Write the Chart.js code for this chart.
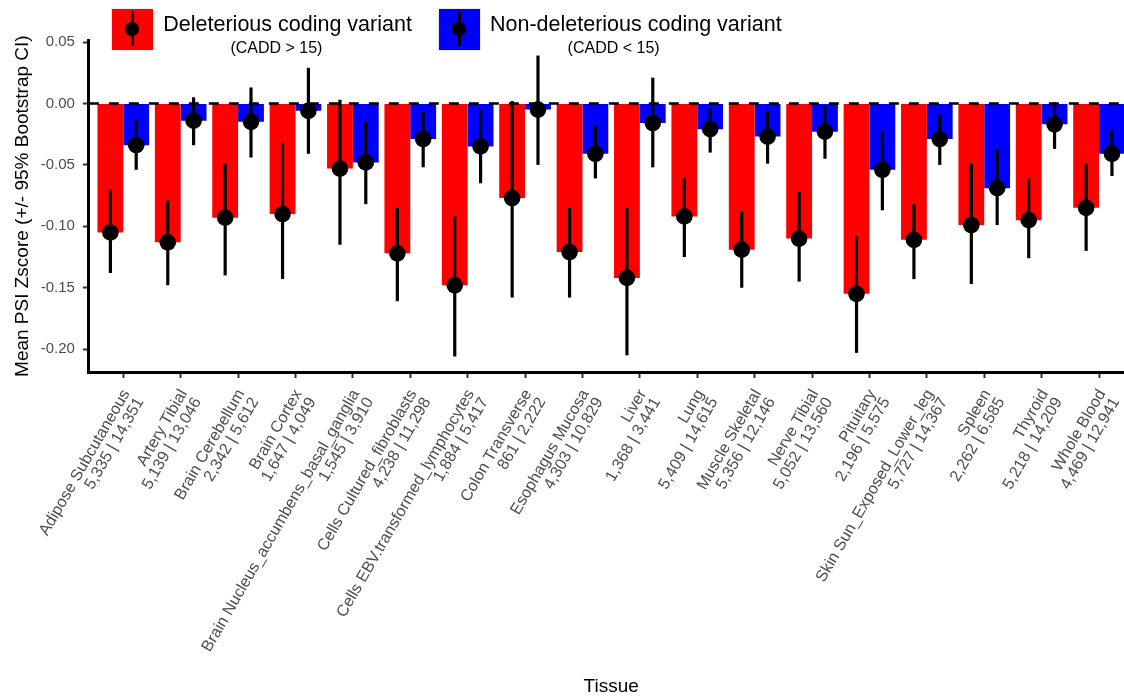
<!DOCTYPE html>
<html>
<head>
<meta charset="utf-8">
<script src="https://cdn.jsdelivr.net/npm/chart.js@4.4.1/dist/chart.umd.min.js"></script>
<style>
  html, body { margin: 0; padding: 0; background: #fff; }
  body { width: 1124px; height: 696px; overflow: hidden; position: relative;
         font-family: "Liberation Sans", Arial, Helvetica, sans-serif; }
  #chart { position: absolute; left: 0; top: 0; }
  .key { position: absolute; top: 9px; width: 41.6px; height: 41px; box-shadow: 0 0 0 1px #ececec; }
  .key .stem { position: absolute; left: 19px; top: 1.7px; width: 3px; height: 35.3px; background: #000; }
  .key .dot { position: absolute; left: 13.8px; top: 13.3px; width: 13.4px; height: 13.4px; border-radius: 50%; background: #000; }
  .lab { position: absolute; top: 14px; font-size: 21.5px; line-height: 21.5px; color: #000; white-space: nowrap; }
  .sub { position: absolute; top: 39.5px; width: 160px; margin-left: -80px; text-align: center;
         font-size: 16px; line-height: 16px; color: #000; white-space: nowrap; }
</style>
</head>
<body>
<canvas id="chart" width="1136" height="696" style="width:1136px;height:696px"></canvas>

<div class="key" id="key0" style="left:111.7px"><div class="stem"></div><div class="dot"></div></div>
<div class="lab" id="lab0" style="left:163.3px"></div>
<div class="sub" id="sub0" style="left:276.4px"></div>
<div class="key" id="key1" style="left:438.6px"><div class="stem"></div><div class="dot"></div></div>
<div class="lab" id="lab1" style="left:490px"></div>
<div class="sub" id="sub1" style="left:613.6px"></div>

<script>
const tissues = ['Adipose Subcutaneous', 'Artery Tibial', 'Brain Cerebellum', 'Brain Cortex',
  'Brain Nucleus_accumbens_basal_ganglia', 'Cells Cultured_fibroblasts', 'Cells EBV.transformed_lymphocytes',
  'Colon Transverse', 'Esophagus Mucosa', 'Liver', 'Lung', 'Muscle Skeletal', 'Nerve Tibial', 'Pituitary',
  'Skin Sun_Exposed_Lower_leg', 'Spleen', 'Thyroid', 'Whole Blood'];
const counts = ['5,335 | 14,351', '5,139 | 13,046', '2,342 | 5,612', '1,647 | 4,049', '1,545 | 3,910',
  '4,238 | 11,298', '1,884 | 5,417', '861 | 2,222', '4,303 | 10,829', '1,368 | 3,441', '5,409 | 14,615',
  '5,356 | 12,146', '5,052 | 13,560', '2,196 | 5,575', '5,727 | 14,367', '2,262 | 6,585', '5,218 | 14,209',
  '4,469 | 12,941'];

// deleterious (CADD > 15): mean and 95% bootstrap CI
const delMean = [-0.105, -0.113, -0.093, -0.090, -0.053, -0.122, -0.148, -0.077, -0.121, -0.142,
  -0.092, -0.119, -0.110, -0.155, -0.111, -0.099, -0.095, -0.085];
const delLow = [-0.138, -0.148, -0.140, -0.143, -0.115, -0.161, -0.206, -0.158, -0.158, -0.205,
  -0.125, -0.150, -0.145, -0.203, -0.143, -0.147, -0.126, -0.120];
const delHigh = [-0.070, -0.079, -0.049, -0.032, 0.003, -0.085, -0.092, 0.002, -0.085, -0.085,
  -0.060, -0.088, -0.072, -0.108, -0.082, -0.049, -0.061, -0.049];

// non-deleterious (CADD < 15)
const nonMean = [-0.034, -0.014, -0.015, -0.006, -0.048, -0.029, -0.035, -0.005, -0.041, -0.016,
  -0.021, -0.027, -0.023, -0.054, -0.029, -0.069, -0.017, -0.041];
const nonLow = [-0.054, -0.034, -0.044, -0.041, -0.082, -0.052, -0.065, -0.050, -0.061, -0.052,
  -0.040, -0.049, -0.045, -0.087, -0.050, -0.099, -0.037, -0.059];
const nonHigh = [-0.013, 0.005, 0.013, 0.029, -0.015, -0.007, -0.005, 0.039, -0.018, 0.021,
  -0.004, -0.006, -0.002, -0.022, -0.009, -0.038, 0.001, -0.022];

const seriesNames = ['Deleterious coding variant', 'Non-deleterious coding variant'];
const seriesNotes = ['(CADD > 15)', '(CADD < 15)'];
const yTicks = [0.05, 0, -0.05, -0.10, -0.15, -0.20];

const seriesColors = ['#FF0000', '#0000FF'];
const FONT = '"Liberation Sans", Arial, Helvetica, sans-serif';
const dodge = 0.225;

seriesNames.forEach((name, i) => {
  document.getElementById('key' + i).style.background = seriesColors[i];
  document.getElementById('lab' + i).textContent = name;
  document.getElementById('sub' + i).textContent = seriesNotes[i];
});

function barPoints(vals) {
  return vals.map((v, i) => ({ x: i, y: v }));
}
function dotPoints(vals, dx) {
  return vals.map((v, i) => ({ x: i + dx, y: v }));
}

// zero line and CI ranges, drawn after the bars and before the dots
const rangePlugin = {
  id: 'ranges',
  afterDatasetDraw(chart, args) {
    if (args.index !== 0) return;   // red bars are drawn last of the bars
    const { ctx, chartArea, scales: { x, y } } = chart;
    ctx.save();
    const y0 = y.getPixelForValue(0);
    ctx.beginPath();
    ctx.setLineDash([10, 10]);
    ctx.strokeStyle = '#000';
    ctx.lineWidth = 2.6;
    ctx.moveTo(chartArea.left, y0);
    ctx.lineTo(chartArea.right, y0);
    ctx.stroke();
    ctx.setLineDash([]);
    ctx.lineWidth = 3.2;
    [[delLow, delHigh, -dodge], [nonLow, nonHigh, dodge]].forEach(([lo, hi, dx]) => {
      lo.forEach((v, i) => {
        const px = x.getPixelForValue(i + dx);
        ctx.beginPath();
        ctx.moveTo(px, y.getPixelForValue(v));
        ctx.lineTo(px, y.getPixelForValue(hi[i]));
        ctx.stroke();
      });
    });
    ctx.restore();
  }
};

const axisGrid = { drawOnChartArea: false, drawTicks: true, tickLength: 6, tickColor: '#333333', tickWidth: 2, offset: false };
const axisBorder = { display: true, color: '#000', width: 3 };

new Chart(document.getElementById('chart'), {
  type: 'bar',
  data: {
    datasets: [
      { label: seriesNames[0], data: barPoints(delMean), backgroundColor: seriesColors[0],
        categoryPercentage: 0.9, barPercentage: 1, order: 2 },
      { label: seriesNames[1], data: barPoints(nonMean), backgroundColor: seriesColors[1],
        categoryPercentage: 0.9, barPercentage: 1, order: 3 },
      { type: 'scatter', data: dotPoints(delMean, -dodge), pointRadius: 8.3, pointBorderWidth: 0,
        pointBackgroundColor: '#000', order: 1 },
      { type: 'scatter', data: dotPoints(nonMean, dodge), pointRadius: 8.3, pointBorderWidth: 0,
        pointBackgroundColor: '#000', order: 0 }
    ]
  },
  options: {
    responsive: false,
    animation: false,
    events: [],
    layout: { autoPadding: false, padding: { left: 0, top: 40.3, right: 2.25, bottom: 0 } },
    plugins: { legend: { display: false }, tooltip: { enabled: false } },
    scales: {
      x: {
        type: 'linear', min: -0.6, max: 17.6, offset: false,
        afterBuildTicks: s => { s.ticks = tissues.map((_, i) => ({ value: i })); },
        afterFit: s => { s.height = 324; },
        ticks: {
          autoSkip: false, minRotation: 60, maxRotation: 60, padding: 9, labelOffset: 3, color: '#4D4D4D',
          font: { family: FONT, size: 16.1, lineHeight: 1 },
          callback: v => [tissues[v], counts[v]]
        },
        grid: axisGrid,
        border: axisBorder,
        title: { display: true, text: 'Tissue', color: '#000', padding: 0,
                 font: { family: FONT, size: 19, lineHeight: 1 } }
      },
      y: {
        min: -0.2186, max: 0.0514,
        afterBuildTicks: s => { s.ticks = yTicks.map(v => ({ value: v })); },
        afterFit: s => { s.width = 88.85; },
        ticks: { padding: 8, color: '#4D4D4D', font: { family: FONT, size: 15 },
                 callback: v => v.toFixed(2) },
        grid: axisGrid,
        border: axisBorder,
        title: { display: true, text: 'Mean PSI Zscore (+/- 95% Bootstrap CI)', color: '#000',
                 padding: { top: 13, bottom: 0 }, font: { family: FONT, size: 19, lineHeight: 1 } }
      }
    }
  },
  plugins: [rangePlugin]
});
</script>
</body>
</html>
